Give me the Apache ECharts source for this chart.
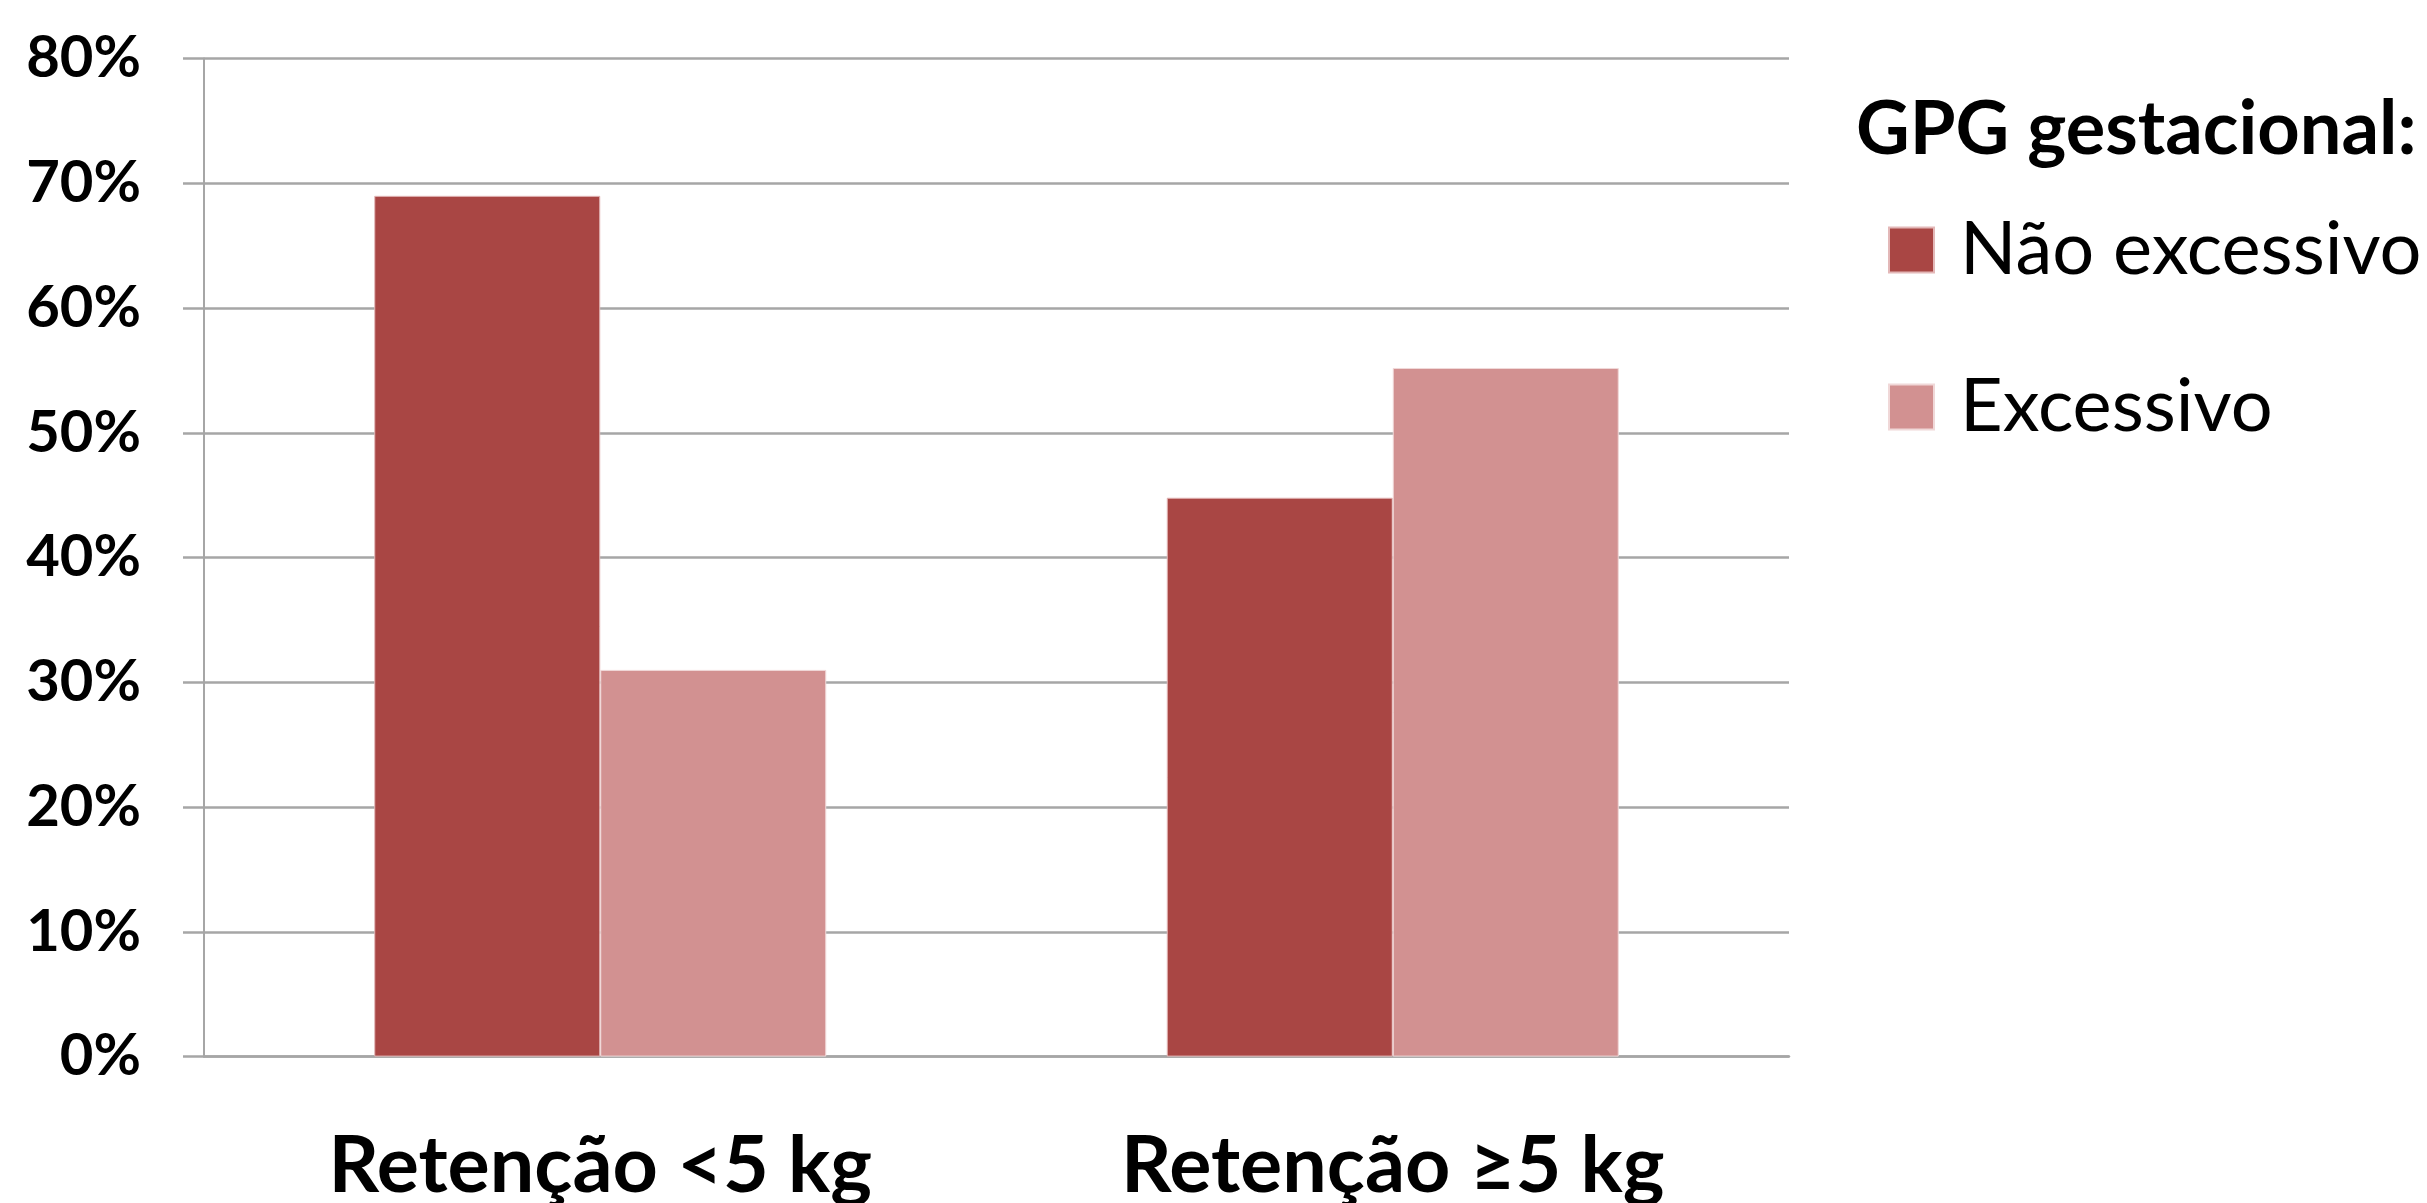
<!DOCTYPE html>
<html>
<head>
<meta charset="utf-8">
<script src="https://cdn.jsdelivr.net/npm/echarts@6/dist/echarts.min.js"></script>
<style>
html,body{margin:0;padding:0;background:#ffffff;}
#chart{width:2427px;height:1203px;}
</style>
</head>
<body>
<div id="chart"></div>
<script>
var categories = ['Retenção <5 kg', 'Retenção ≥5 kg'];
var seriesNames = ['Não excessivo', 'Excessivo'];
var naoExcessivo = [0.69, 0.448];
var excessivo = [0.31, 0.552];
var legendTitle = 'GPG gestacional:';

var chart = echarts.init(document.getElementById('chart'), null, {renderer: 'canvas'});
var FONT = 'Lato';
chart.setOption({
  backgroundColor: '#ffffff',
  animation: false,
  title: {
    text: legendTitle,
    left: 1856,
    top: 93,
    padding: 0,
    textStyle: {fontFamily: FONT, fontWeight: 'bold', fontSize: 74, lineHeight: 74, color: '#000000'}
  },
  legend: {
    orient: 'vertical',
    left: 1888,
    top: 213,
    padding: 0,
    itemWidth: 45,
    itemHeight: 45,
    itemGap: 83,
    icon: 'rect',
    data: seriesNames,
    textStyle: {fontFamily: FONT, fontSize: 74, lineHeight: 45, color: '#000000', padding: [0, 0, 0, 21]}
  },
  grid: {
    left: 204,
    right: 638,
    top: 58.6,
    bottom: 146.4,
    containLabel: false,
    outerBoundsMode: 'none'
  },
  xAxis: {
    type: 'category',
    data: categories,
    axisLine: {show: true, lineStyle: {color: '#a6a6a6', width: 2.5}},
    axisTick: {show: false},
    axisLabel: {
      margin: 70,
      fontFamily: FONT, fontWeight: 'bold', fontSize: 79, lineHeight: 79, color: '#000000'
    },
    splitLine: {show: false}
  },
  yAxis: {
    type: 'value',
    min: 0,
    max: 0.8,
    interval: 0.1,
    axisLine: {show: true, lineStyle: {color: '#a6a6a6', width: 2}},
    axisTick: {show: true, inside: false, length: 21, lineStyle: {color: '#a6a6a6', width: 2.5}},
    axisLabel: {
      margin: 63,
      fontFamily: FONT, fontWeight: 'bold', fontSize: 58, color: '#000000',
      formatter: function (v) { return Math.round(v * 100) + '%'; }
    },
    splitLine: {show: true, lineStyle: {color: '#a6a6a6', width: 2.5}}
  },
  series: [
    {
      name: seriesNames[0],
      type: 'bar',
      data: naoExcessivo,
      barWidth: 226,
      barGap: '0%',
      itemStyle: {color: '#A94644', borderColor: '#e3b8b8', borderWidth: 1}
    },
    {
      name: seriesNames[1],
      type: 'bar',
      data: excessivo,
      barWidth: 226,
      barGap: '0%',
      itemStyle: {color: '#D29191', borderColor: '#f0d8d8', borderWidth: 1}
    }
  ]
});
</script>
</body>
</html>
